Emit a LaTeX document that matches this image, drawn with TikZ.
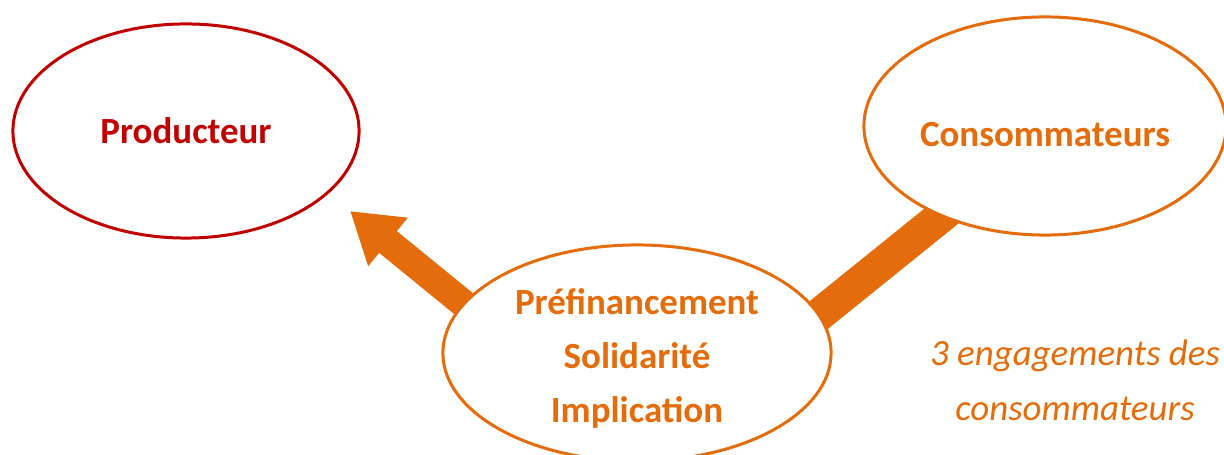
\documentclass[tikz,border=0pt]{standalone}
\usepackage{fontspec}
\setmainfont{Carlito}
\usetikzlibrary{shapes.geometric,arrows.meta,backgrounds}
\definecolor{rougefonce}{HTML}{C00000}
\definecolor{orangefonce}{HTML}{E46C0A}

\begin{document}
\begin{tikzpicture}[x=0.01cm,y=-0.01cm,
    bulle/.style={ellipse, draw, line width=0.03cm, fill=white, inner sep=0pt,
        font=\bfseries\fontsize{10.5}{15.4}\selectfont, align=center},
    texte/.style={text=orangefonce, font=\bfseries\fontsize{10.5}{15.4}\selectfont, align=center},
    bande/.style={orangefonce, line width=0.33cm}]
            \useasboundingbox (0,0) rectangle (1224,455);

            \node[bulle, draw=rougefonce, text=rougefonce, minimum width=3.46cm, minimum height=2.14cm] (P) at (186,131) {Producteur};
            \node[bulle, draw=orangefonce, minimum width=3.62cm, minimum height=2.18cm,
                label={[texte, yshift=-0.09cm]center:Consommateurs}] (C) at (1045,126) {};
            \node[bulle, draw=orangefonce, minimum width=3.88cm, minimum height=2.16cm,
                label={[texte, yshift=-0.055cm]center:Préfinancement\\Solidarité\\Implication}] (M) at (637,353) {};
            \node[font=\itshape\fontsize{10.5}{15.6}\selectfont, text=orangefonce, align=center] (N) at (1075,380) {3 engagements des\\consommateurs};

            \coordinate (T) at (350,211);

            \begin{scope}[on background layer]
                \draw[bande, shorten <=-0.1cm, shorten >=-0.1cm] (M.12) -- (C.221);
                \draw[bande, line width=0.28cm, shorten <=-0.1cm, -{Triangle[width=0.59cm, length=0.49cm]}] (M.164) -- (T);
            \end{scope}

        \end{tikzpicture}
\end{document}
